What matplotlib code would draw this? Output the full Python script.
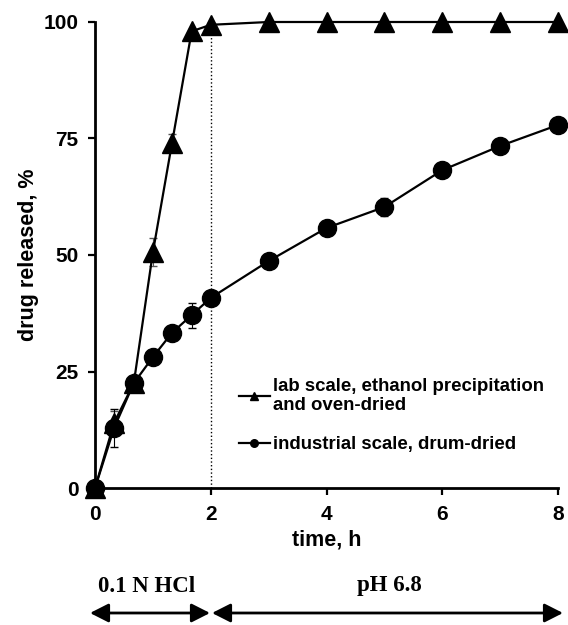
import numpy as np
import matplotlib
matplotlib.use("Agg")
import matplotlib.pyplot as plt
from matplotlib.patches import FancyArrowPatch

plt.rcParams['font.family'] = ['Liberation Sans', 'DejaVu Sans']
plt.rcParams['font.weight'] = 'bold'

# time points, h
t_lab = [0, 0.33, 0.67, 1, 1.33, 1.67, 2, 3, 4, 5, 6, 7, 8]
lab = [0, 14, 22.5, 50.6, 74, 98, 99.4, 100, 100, 100, 100, 100, 100]
lab_err = [0, 2.5, 1, 3, 2, 0.5, 0.3, 0, 0, 0, 0, 0, 0]

t_ind = [0, 0.33, 0.67, 1, 1.33, 1.67, 2, 3, 4, 5, 6, 7, 8]
ind = [0, 12.9, 22.5, 28.1, 33.3, 37.1, 40.8, 48.7, 55.8, 60.3, 68.2, 73.4, 77.9]
ind_err = [0, 4, 1, 0.8, 0.8, 2.7, 0.8, 0.8, 0.8, 2, 0.8, 0.8, 0.8]

yticks = [0, 25, 50, 75, 100]
xticks = [0, 2, 4, 6, 8]

fig = plt.figure(figsize=(5.68, 6.25), dpi=100)
ax = fig.add_axes([0.1673, 0.2192, 0.8151, 0.7456])

ax.plot([2, 2], [0, 99.4], color='black', linestyle=':', linewidth=1)

e1 = ax.errorbar(t_lab, lab, yerr=lab_err, color='black', marker='^', markersize=15,
                 linewidth=1.6, capsize=3, elinewidth=0.8, ecolor='#555555',
                 clip_on=False, zorder=3)
e2 = ax.errorbar(t_ind, ind, yerr=ind_err, color='black', marker='o', markersize=13,
                 linewidth=1.6, capsize=3, elinewidth=0.8, ecolor='black',
                 clip_on=False, zorder=3)

ax.set_xlim(0, 8)
ax.set_ylim(0, 100)
ax.set_xticks(xticks)
ax.set_yticks(yticks)
ax.spines['top'].set_visible(False)
ax.spines['right'].set_visible(False)
ax.spines['left'].set_linewidth(2)
ax.spines['bottom'].set_linewidth(2)
ax.tick_params(direction='out', length=5, width=1.6, labelsize=15, pad=7)
for lbl in ax.get_xticklabels() + ax.get_yticklabels():
    lbl.set_fontweight('bold')

ax.set_xlabel('time, h', fontsize=15.5, fontweight='bold', labelpad=4)
ax.set_ylabel('drug released, %', fontsize=15.5, fontweight='bold', labelpad=3)

leg = ax.legend([e1[0], e2[0]],
                ['lab scale, ethanol precipitation\nand oven-dried',
                 'industrial scale, drum-dried'],
                loc='upper left', bbox_to_anchor=(0.311, 0.236), frameon=False,
                prop={'family': ['Liberation Sans'], 'weight': 'bold', 'size': 13.4},
                markerscale=0.42, handlelength=1.65,
                handletextpad=0.15, labelspacing=1.2, borderpad=0,
                borderaxespad=0)
for txt in leg.get_texts():
    txt.set_linespacing(1.15)

# medium annotations below the plot
serif = ['Liberation Serif', 'DejaVu Serif']
fig.text(147 / 568, 1 - 586 / 625, '0.1 N HCl', family=serif, fontsize=16.5,
         fontweight='bold', ha='center', va='center')
fig.text(389 / 568, 1 - 586 / 625, 'pH 6.8', family=serif, fontsize=16.5,
         fontweight='bold', ha='center', va='center')
arrow_y = 1 - 613 / 625
for x0, x1 in [(90, 210), (212, 563)]:
    fig.add_artist(FancyArrowPatch(
        (x0 / 568, arrow_y), (x1 / 568, arrow_y), transform=fig.transFigure,
        arrowstyle='<|-|>,head_length=0.75,head_width=0.38', mutation_scale=15,
        color='black', linewidth=2, shrinkA=0, shrinkB=0))

fig.savefig('out.png', dpi=100)
